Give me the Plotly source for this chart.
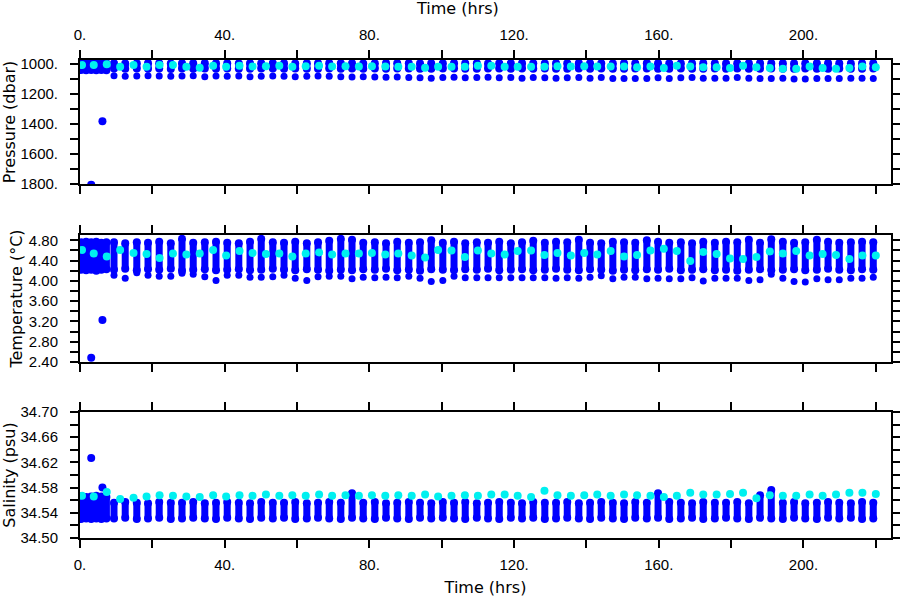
import plotly.graph_objects as go

# ---------------- data ----------------
# blue instrument: vertical profile columns (time in hrs)
col_time = [0.3, 1.7, 3.1, 4.5, 5.9, 7.3,
            9.4, 12.5, 15.7, 18.8, 21.9, 25.1, 28.2, 31.3, 34.5, 37.6,
            40.7, 43.9, 47.0, 50.1, 53.3, 56.4, 59.5, 62.7, 65.8, 68.9,
            72.1, 75.2, 78.3, 81.5, 84.6, 87.7, 90.9, 94.0, 97.1, 100.3,
            103.4, 106.5, 109.7, 112.8, 115.9, 119.1, 122.2, 125.3, 128.5, 131.6,
            134.7, 137.9, 141.0, 144.1, 147.3, 150.4, 153.5, 156.7, 159.8, 162.9,
            166.1, 169.2, 172.3, 175.5, 178.6, 181.7, 184.9, 188.0, 191.1, 194.3,
            197.4, 200.5, 203.7, 206.8, 209.9, 213.1, 216.2, 219.3]

pres_top = [995, 995, 995, 995, 995, 995,
            995, 996, 995, 994, 995, 996, 995, 995, 994, 995,
            995, 996, 995, 995, 994, 995, 996, 995, 995, 994,
            995, 995, 996, 995, 994, 995, 995, 996, 995, 995,
            994, 995, 995, 996, 995, 995, 994, 995, 996, 995,
            995, 994, 995, 995, 996, 995, 995, 994, 995, 996,
            995, 995, 994, 995, 996, 995, 995, 994, 995, 995,
            996, 995, 995, 994, 995, 996, 995, 995]
pres_bot = [1040, 1041, 1040, 1042, 1040, 1041,
            1030, 1032, 1029, 1031, 1030, 1033, 1030, 1031, 1029, 1032,
            1030, 1031, 1032, 1030, 1029, 1031, 1030, 1032, 1031, 1030,
            1031, 1030, 1032, 1030, 1031, 1029, 1030, 1032, 1031, 1030,
            1030, 1032, 1031, 1030, 1029, 1031, 1030, 1032, 1030, 1031,
            1032, 1030, 1031, 1030, 1032, 1031, 1030, 1029, 1031, 1032,
            1030, 1031, 1032, 1030, 1031, 1030, 1032, 1031, 1030, 1032,
            1031, 1030, 1032, 1031, 1030, 1031, 1032, 1030]
pres_deep = [None, None, None, None, None, None,
             1078, 1082, 1080, 1078, 1080, 1082, 1080, 1078, 1084, 1080,
             1082, 1080, 1084, 1082, 1080, 1082, 1084, 1082, 1080, 1082,
             1084, 1086, 1084, 1086, 1088, 1086, 1090, 1092, 1094, 1090,
             1088, 1092, 1090, 1088, 1092, 1090, 1094, 1090, 1092, 1094,
             1092, 1090, 1094, 1090, 1096, 1096, 1096, 1096, 1092, 1097,
             1092, 1090, 1094, 1094, 1094, 1090, 1094, 1096, 1096, 1094,
             1099, 1099, 1096, 1096, 1096, 1094, 1094, 1097]

temp_top = [4.76, 4.77, 4.76, 4.77, 4.75, 4.76,
            4.76, 4.74, 4.76, 4.75, 4.77, 4.74, 4.83, 4.75, 4.76, 4.77,
            4.75, 4.74, 4.77, 4.83, 4.76, 4.75, 4.77, 4.74, 4.76, 4.79,
            4.83, 4.81, 4.75, 4.76, 4.74, 4.77, 4.75, 4.76, 4.80, 4.75,
            4.77, 4.74, 4.76, 4.75, 4.77, 4.74, 4.76, 4.79, 4.75, 4.77,
            4.76, 4.81, 4.75, 4.74, 4.77, 4.76, 4.75, 4.80, 4.77, 4.75,
            4.76, 4.74, 4.77, 4.75, 4.77, 4.76, 4.81, 4.75, 4.82, 4.77,
            4.75, 4.76, 4.81, 4.77, 4.75, 4.76, 4.77, 4.76]
temp_bot = [4.22, 4.21, 4.22, 4.20, 4.22, 4.23,
            4.22, 4.24, 4.21, 4.23, 4.22, 4.24, 4.20, 4.22, 4.23, 4.21,
            4.22, 4.23, 4.21, 4.22, 4.24, 4.22, 4.21, 4.23, 4.22, 4.20,
            4.22, 4.21, 4.23, 4.22, 4.24, 4.21, 4.22, 4.20, 4.23, 4.22,
            4.21, 4.23, 4.22, 4.24, 4.21, 4.22, 4.23, 4.21, 4.22, 4.24,
            4.22, 4.21, 4.23, 4.22, 4.20, 4.22, 4.21, 4.23, 4.22, 4.24,
            4.21, 4.22, 4.23, 4.21, 4.22, 4.20, 4.22, 4.23, 4.21, 4.22,
            4.23, 4.21, 4.22, 4.24, 4.22, 4.21, 4.23, 4.22]
temp_deep = [None, None, None, None, None, None,
             4.11, 4.05, 4.16, 4.11, 4.09, 4.09, 4.15, 4.13, 4.08, 4.01,
             4.11, 4.11, 4.07, 4.07, 4.08, 4.11, 4.05, 4.01, 4.08, 4.09,
             4.09, 4.04, 4.07, 4.06, 4.07, 4.06, 4.09, 4.05, 3.99, 4.01,
             4.09, 4.06, 4.06, 4.06, 4.06, 4.06, 4.06, 4.06, 4.06, 4.05,
             4.06, 4.05, 4.07, 4.10, 4.04, 4.07, 4.07, 4.04, 4.05, 4.04,
             4.04, 4.06, 4.00, 4.05, 4.05, 4.05, 4.01, 4.02, 4.13, 4.05,
             3.99, 3.98, 4.04, 4.02, 4.02, 4.05, 4.05, 4.07]

sal_top = [34.566, 34.565, 34.566, 34.567, 34.566, 34.565,
           34.556, 34.557, 34.556, 34.555, 34.557, 34.556, 34.556, 34.557, 34.555, 34.556,
           34.557, 34.556, 34.555, 34.557, 34.556, 34.556, 34.557, 34.555, 34.556, 34.557,
           34.556, 34.571, 34.556, 34.557, 34.555, 34.556, 34.557, 34.556, 34.555, 34.557,
           34.556, 34.557, 34.555, 34.556, 34.557, 34.556, 34.555, 34.557, 34.556, 34.556,
           34.557, 34.555, 34.556, 34.557, 34.556, 34.555, 34.557, 34.556, 34.571, 34.557,
           34.556, 34.555, 34.557, 34.556, 34.556, 34.557, 34.555, 34.568, 34.576, 34.556,
           34.557, 34.555, 34.556, 34.557, 34.556, 34.555, 34.557, 34.556]
sal_bot = [34.530, 34.531, 34.530, 34.531, 34.530, 34.531,
           34.531, 34.532, 34.530, 34.531, 34.532, 34.530, 34.531, 34.532, 34.531, 34.530,
           34.532, 34.531, 34.530, 34.532, 34.531, 34.532, 34.530, 34.531, 34.532, 34.531,
           34.530, 34.532, 34.531, 34.530, 34.532, 34.531, 34.530, 34.532, 34.531, 34.532,
           34.531, 34.530, 34.532, 34.531, 34.530, 34.532, 34.531, 34.532, 34.530, 34.531,
           34.532, 34.531, 34.530, 34.532, 34.531, 34.530, 34.532, 34.531, 34.532, 34.530,
           34.531, 34.532, 34.530, 34.531, 34.532, 34.531, 34.530, 34.532, 34.531, 34.530,
           34.532, 34.531, 34.530, 34.532, 34.531, 34.532, 34.530, 34.531]

# blue outliers at the start of the record
out_time = [3.1, 6.2]
out_pres = [1805, 1382]
out_temp = [2.485, 3.23]
out_sal = [34.627, 34.580]

# cyan instrument: one sample per cycle
cyan_time = [0.55, 3.8, 7.4, 11.1, 14.8, 18.4, 22.0, 25.7, 29.4, 33.1, 36.8, 40.4,
             44.1, 47.7, 51.4, 55.1, 58.7, 62.4, 66.1, 69.7, 73.4, 77.1,
             80.7, 84.4, 88.0, 91.7, 95.4, 99.0, 102.7, 106.4, 110.0, 113.7,
             117.4, 121.0, 124.7, 128.4, 132.0, 135.7, 139.4,
             143.0, 146.7, 150.4, 154.0, 157.7, 161.4, 165.0, 168.7, 172.3, 176.0,
             179.7, 183.3, 187.0, 190.7, 194.3, 198.0, 201.7, 205.3, 209.0, 212.7,
             216.3, 220.0]
cyan_pres = [1007, 1007, 1002, 1018, 1007, 1018, 1007, 1007, 1018, 1024, 1011, 1018,
             1012, 1016, 1014, 1012, 1018, 1014, 1012, 1016, 1014, 1016,
             1015, 1016, 1018, 1018, 1024, 1018, 1018, 1018, 1011, 1011,
             1018, 1018, 1018, 1018, 1015, 1016, 1015,
             1016, 1016, 1016, 1022, 1016, 1027, 1011, 1016, 1022, 1022,
             1027, 1011, 1022, 1027, 1031, 1031, 1016, 1027, 1031, 1027,
             1016, 1022]
cyan_temp = [4.61, 4.54, 4.48, 4.61, 4.55, 4.53, 4.45, 4.54, 4.52, 4.54, 4.61, 4.50,
             4.59, 4.55, 4.53, 4.54, 4.48, 4.54, 4.56, 4.52, 4.54, 4.54,
             4.55, 4.52, 4.54, 4.50, 4.46, 4.61, 4.60, 4.47, 4.60, 4.54,
             4.52, 4.59, 4.60, 4.51, 4.55, 4.50, 4.55,
             4.52, 4.59, 4.48, 4.51, 4.60, 4.635, 4.59, 4.39, 4.57, 4.53,
             4.44, 4.43, 4.47, 4.58, 4.54, 4.59, 4.50, 4.53, 4.51, 4.43,
             4.50, 4.50]
cyan_sal = [34.567, 34.566, 34.573, 34.562, 34.564, 34.566, 34.568, 34.567, 34.566, 34.565, 34.568, 34.566,
            34.568, 34.567, 34.569, 34.567, 34.568, 34.567, 34.569, 34.567, 34.568, 34.567,
            34.568, 34.567, 34.568, 34.567, 34.569, 34.566, 34.567, 34.568, 34.567, 34.569,
            34.569, 34.567, 34.565, 34.575, 34.568, 34.567, 34.568,
            34.569, 34.567, 34.569, 34.568, 34.567, 34.565, 34.567, 34.572, 34.569, 34.569,
            34.570, 34.572, 34.563, 34.568, 34.567, 34.567, 34.569, 34.567, 34.569, 34.572,
            34.572, 34.570]

# axis ticks
x_ticks = [0, 20, 40, 60, 80, 100, 120, 140, 160, 180, 200, 220]
x_labels = ["0.", "", "40.", "", "80.", "", "120.", "", "160.", "", "200.", ""]
p_ticks = [1000, 1100, 1200, 1300, 1400, 1500, 1600, 1700, 1800]
p_labels = ["1000.", "", "1200.", "", "1400.", "", "1600.", "", "1800."]
t_ticks = [2.4, 2.6, 2.8, 3.0, 3.2, 3.4, 3.6, 3.8, 4.0, 4.2, 4.4, 4.6, 4.8]
t_labels = ["2.40", "", "2.80", "", "3.20", "", "3.60", "", "4.00", "", "4.40", "", "4.80"]
s_ticks = [34.50, 34.52, 34.54, 34.56, 34.58, 34.60, 34.62, 34.64, 34.66, 34.68, 34.70]
s_labels = ["34.50", "", "34.54", "", "34.58", "", "34.62", "", "34.66", "", "34.70"]

# ---------------- figure ----------------
BLUE = "#0000FF"
CYAN = "#00F0F0"

fig = go.Figure()


def column_xy(times, tops, bots):
    xs, ys = [], []
    for t, a, b in zip(times, tops, bots):
        xs += [t, t, None]
        ys += [a, b, None]
    return xs, ys


panels = [
    ("x", "y", pres_top, pres_bot, pres_deep, out_pres, cyan_pres),
    ("x2", "y2", temp_top, temp_bot, temp_deep, out_temp, cyan_temp),
    ("x3", "y3", sal_top, sal_bot, None, out_sal, cyan_sal),
]

for xa, ya, tops, bots, deep, outs, cyan in panels:
    xs, ys = column_xy(col_time, tops, bots)
    fig.add_trace(go.Scatter(x=xs, y=ys, xaxis=xa, yaxis=ya, mode="lines+markers",
                             line=dict(color=BLUE, width=7),
                             marker=dict(color=BLUE, size=8), hoverinfo="skip",
                             showlegend=False))
    if deep is not None:
        dx = [t for t, d in zip(col_time, deep) if d is not None]
        dy = [d for d in deep if d is not None]
        fig.add_trace(go.Scatter(x=dx, y=dy, xaxis=xa, yaxis=ya, mode="markers",
                                 marker=dict(color=BLUE, size=7), showlegend=False))
    fig.add_trace(go.Scatter(x=out_time, y=outs, xaxis=xa, yaxis=ya, mode="markers",
                             marker=dict(color=BLUE, size=8), showlegend=False))
    fig.add_trace(go.Scatter(x=cyan_time, y=cyan, xaxis=xa, yaxis=ya, mode="markers",
                             marker=dict(color=CYAN, size=8), showlegend=False))

tick_font = dict(family="Liberation Sans, Arial, sans-serif", size=15, color="black")
title_font = dict(family="DejaVu Sans, sans-serif", size=16, color="black")

common = dict(showline=True, linewidth=2, linecolor="black", mirror="ticks",
              ticks="outside", ticklen=8, tickwidth=2, tickcolor="black",
              showgrid=False, zeroline=False, automargin=False, tickfont=tick_font)

x_range = [0, 224.2]
fig.update_layout(
    width=900, height=600,
    template="none",
    paper_bgcolor="white", plot_bgcolor="white",
    margin=dict(l=80, r=9, t=60, b=62),
    showlegend=False,
    xaxis=dict(common, domain=[0, 1], range=x_range, anchor="y", side="top",
               tickmode="array", tickvals=x_ticks, ticktext=x_labels, ticklabelstandoff=4),
    xaxis2=dict(common, domain=[0, 1], range=x_range, anchor="y2",
                tickmode="array", tickvals=x_ticks, showticklabels=False),
    xaxis3=dict(common, domain=[0, 1], range=x_range, anchor="y3", side="bottom",
                tickmode="array", tickvals=x_ticks, ticktext=x_labels, ticklabelstandoff=4,
                title=dict(text="Time (hrs)", font=title_font, standoff=10)),
    yaxis=dict(common, domain=[0.7406, 1.0], range=[1800, 973], anchor="x",
               tickmode="array", tickvals=p_ticks, ticktext=p_labels, ticklabelstandoff=9,
               title=dict(text="Pressure (dbar)", font=title_font, standoff=2)),
    yaxis2=dict(common, domain=[0.3682, 0.6339], range=[2.40, 4.905], anchor="x2",
                tickmode="array", tickvals=t_ticks, ticktext=t_labels, ticklabelstandoff=9,
                title=dict(text="Temperature (°C)", font=title_font, standoff=2)),
    yaxis3=dict(common, domain=[0, 0.2636], range=[34.50, 34.70], anchor="x3",
                tickmode="array", tickvals=s_ticks, ticktext=s_labels, ticklabelstandoff=9,
                title=dict(text="Salinity (psu)", font=title_font, standoff=2)),
    annotations=[dict(text="Time (hrs)", xref="paper", yref="paper", x=0.4649, y=1.0,
                      yshift=52, xanchor="center", yanchor="middle", showarrow=False,
                      font=title_font)],
)

fig.write_html("out.html", config={"displayModeBar": False},
               post_script="document.body.style.margin='0';")
